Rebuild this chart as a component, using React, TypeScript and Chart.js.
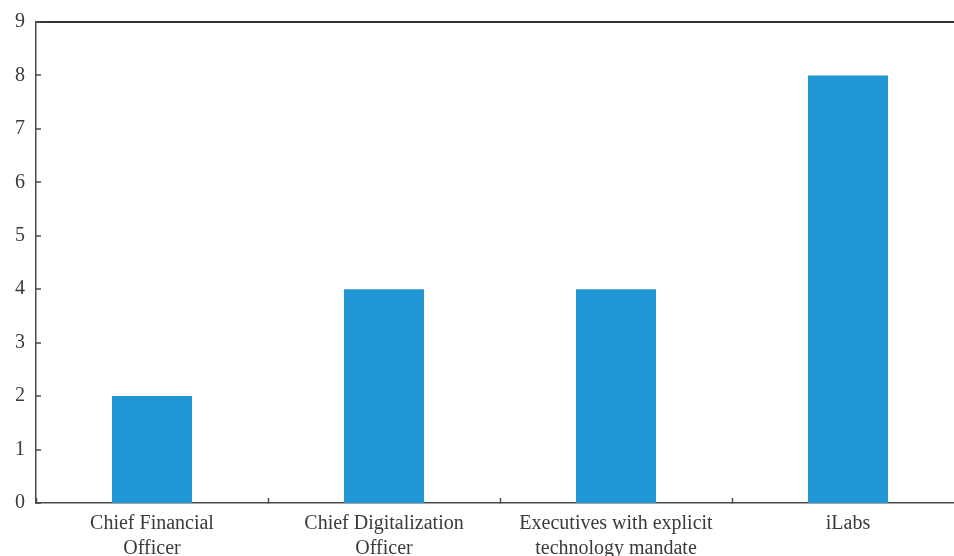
import React, { useEffect, useRef } from "react";
import { Chart, registerables } from "chart.js";

Chart.register(...registerables);

const categories: (string | string[])[] = [
  ["Chief Financial", "Officer"],
  ["Chief Digitalization", "Officer"],
  ["Executives with explicit", "technology mandate"],
  "iLabs",
];
const values: number[] = [2, 4, 4, 8];
const yMin = 0;
const yMax = 9;
const yStep = 1;

const BAR_COLOR = "#2196d4";
const AXIS_COLOR = "#4a4a4a";
const TEXT_COLOR = "#3a3a3a";
const FONT_FAMILY = "'Liberation Serif', 'DejaVu Serif', serif";

export default function App() {
  const canvasRef = useRef<HTMLCanvasElement | null>(null);

  useEffect(() => {
    document.body.style.margin = "0";
    document.body.style.overflow = "hidden";
    const canvas = canvasRef.current;
    if (!canvas) return;
    const chart = new Chart(canvas, {
      type: "bar",
      data: {
        labels: categories,
        datasets: [
          {
            data: values,
            backgroundColor: BAR_COLOR,
            borderWidth: 0,
            categoryPercentage: 1,
            barPercentage: 0.345,
          },
        ],
      },
      options: {
        animation: false,
        responsive: true,
        maintainAspectRatio: false,
        layout: { padding: { top: 22, right: 0, bottom: 0, left: 0 } },
        plugins: {
          legend: { display: false },
          tooltip: { enabled: false },
        },
        scales: {
          x: {
            offset: true,
            grid: {
              offset: true,
              drawOnChartArea: false,
              drawTicks: true,
              tickLength: -5,
              tickColor: AXIS_COLOR,
              tickWidth: 1.5,
            },
            border: { display: true, color: AXIS_COLOR, width: 1.5 },
            ticks: {
              color: TEXT_COLOR,
              font: { family: FONT_FAMILY, size: 20, lineHeight: 1.25 },
              padding: 13,
              maxRotation: 0,
              autoSkip: false,
            },
            afterFit: (scale: any) => {
              scale.height = 53;
              scale.paddingLeft = 0;
              scale.paddingRight = 0;
            },
          },
          y: {
            min: yMin,
            max: yMax,
            grid: {
              drawOnChartArea: true,
              color: (ctx: any) =>
                ctx.tick && ctx.tick.value === yMax ? "#333333" : "rgba(0,0,0,0)",
              lineWidth: (ctx: any) => (ctx.tick && ctx.tick.value === yMax ? 2 : 0),
              drawTicks: true,
              tickLength: -5,
              tickColor: AXIS_COLOR,
              tickWidth: 1.5,
            },
            border: { display: true, color: AXIS_COLOR, width: 1.5 },
            ticks: {
              stepSize: yStep,
              color: TEXT_COLOR,
              font: { family: FONT_FAMILY, size: 20 },
              padding: 16,
            },
            afterFit: (scale: any) => {
              scale.width = 36;
              scale.paddingTop = 0;
              scale.paddingBottom = 0;
            },
          },
        },
      },
    });
    return () => chart.destroy();
  }, []);

  return (
    <div
      style={{
        position: "fixed",
        left: 0,
        top: 0,
        width: 954,
        height: 556,
        overflow: "hidden",
        background: "#fff",
      }}
    >
      <div style={{ position: "relative", width: 964, height: 556 }}>
        <canvas ref={canvasRef} />
      </div>
    </div>
  );
}
